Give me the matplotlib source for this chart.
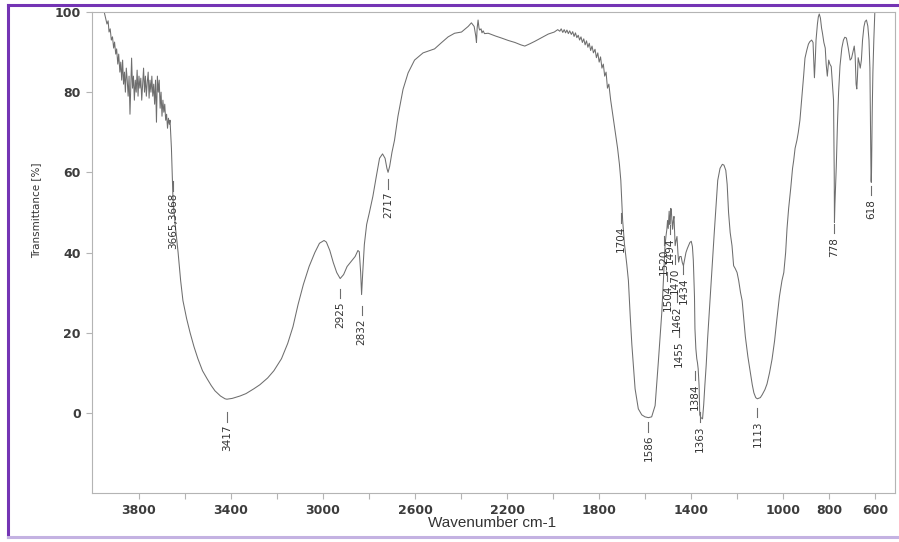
import numpy as np
import matplotlib.pyplot as plt
from matplotlib.lines import Line2D

# IR spectrum: wavenumber (cm-1) and transmittance (%)
wavenumber = [
    3950, 3944, 3938, 3933, 3929, 3924, 3919, 3914, 3909, 3905, 3900, 3896, 3891, 3887,
    3882, 3878, 3874, 3870, 3866, 3862, 3858, 3854, 3850, 3846, 3842, 3838, 3834, 3831,
    3827, 3823, 3819, 3815, 3811, 3807, 3803, 3799, 3795, 3791, 3787, 3783, 3779, 3775,
    3771, 3767, 3763, 3759, 3755, 3751, 3747, 3743, 3739, 3735, 3731, 3727, 3723, 3719,
    3715, 3711, 3707, 3703, 3699, 3695, 3691, 3687, 3683, 3679, 3675, 3671, 3667, 3664,
    3658, 3651, 3640, 3629, 3618, 3608, 3592, 3577, 3560, 3543, 3523, 3503, 3485, 3469,
    3445, 3425, 3417, 3394, 3360, 3334, 3300, 3274, 3240, 3213,
    3180, 3153, 3130, 3108, 3085, 3060, 3035, 3015, 2995, 2985, 2970, 2955, 2940, 2925,
    2910, 2895, 2877, 2860, 2848, 2842, 2836, 2832, 2827, 2820, 2810, 2798, 2783, 2768,
    2754, 2741, 2730, 2722, 2717, 2710, 2700, 2689, 2674, 2652, 2630, 2602, 2565, 2515,
    2486, 2456, 2428, 2398, 2369, 2355, 2343, 2336, 2333, 2330, 2326, 2322, 2319, 2313,
    2309, 2304, 2298, 2282, 2250, 2224, 2195, 2166, 2140, 2123, 2100, 2079, 2050, 2021,
    1995, 1980, 1971, 1965, 1958, 1952, 1946, 1940, 1934, 1928, 1921, 1915, 1909, 1903,
    1897, 1891, 1885, 1879, 1873, 1867, 1861, 1855, 1849, 1843, 1837, 1831, 1825, 1818,
    1812, 1806, 1800, 1794, 1788, 1782, 1776, 1770, 1764, 1758, 1750, 1740, 1730, 1720,
    1712, 1706, 1702, 1698, 1690, 1680, 1673, 1665, 1658, 1644, 1630, 1615, 1601, 1586,
    1572, 1557, 1543, 1528, 1521, 1514, 1510, 1506, 1503, 1500, 1496, 1493, 1491, 1489,
    1487, 1484, 1481, 1478, 1475, 1472, 1470, 1466, 1462, 1458, 1455, 1450, 1444, 1439,
    1434, 1428, 1423, 1417, 1412, 1406, 1400, 1395, 1391, 1388, 1386, 1384, 1380, 1376,
    1373, 1370, 1366, 1363, 1358, 1351, 1346, 1341, 1335, 1329, 1322, 1315, 1308, 1300,
    1292, 1285, 1275, 1265, 1258, 1250, 1244, 1238, 1231, 1223, 1216, 1209, 1201, 1194,
    1186, 1179, 1165, 1154, 1143, 1135, 1128, 1120, 1113, 1100, 1092, 1080, 1071, 1060,
    1049, 1038, 1028, 1017, 1006, 998, 990, 984, 977, 968, 960, 955, 949, 941,
    935, 928, 920, 912, 906, 898, 891, 885, 877, 871, 868, 865, 861, 858,
    852, 848, 844, 839, 834, 830, 824, 818, 814, 809, 805, 803, 798, 792,
    787, 782, 779, 778, 776, 772, 770, 765, 760, 754, 746, 739, 733, 726,
    718, 710, 704, 698, 692, 688, 684, 681, 678, 675, 670, 666, 661, 656,
    650, 645, 639, 633, 628, 624, 621, 619, 618, 617, 614, 611, 607, 602,
    597,
]
transmittance = [
    100, 98.5, 97, 97.8, 95, 95.8, 93, 93.8, 91, 92.5, 89.5, 90.8, 87, 89.5,
    85, 87.5, 83, 88, 82, 85, 80, 86, 83, 79, 84, 74.5, 83, 88.5,
    81, 84, 78, 83, 80, 85.5, 79, 84, 81, 83.5, 78, 82, 86, 80,
    84, 79, 82.5, 85, 78.5, 83, 80, 84, 79, 82, 77, 83, 72.5, 84,
    80, 83, 76, 80, 74, 78, 75, 77, 73, 74.5, 71, 73.5, 72, 73,
    66, 53, 46, 40, 33, 28, 23.5, 20, 16.5, 13.5, 10.5, 8.5, 6.8, 5.5,
    4.2, 3.5, 3.4, 3.6, 4.2, 4.8, 6, 7, 8.7, 10.5,
    13.5, 17.3, 21.5, 27, 32, 36.5, 40, 42.3, 43, 42.6, 40.5, 37.5, 35, 33.5,
    34.5, 36.5, 37.8, 39, 40.5, 40.2, 35, 29.5, 35, 42, 47, 50, 54, 59,
    63.5, 64.6, 63.5, 61, 60, 61.5, 65, 68, 74, 80.7, 84.8, 88, 89.8, 90.8,
    92.3, 93.8, 94.7, 95, 96.4, 97.3, 96.4, 94, 92.4, 96, 98, 96, 95.5, 95.8,
    94.8, 95.3, 94.6, 94.7, 94, 93.5, 92.9, 92.4, 91.8, 91.5, 92.1, 92.7, 93.6, 94.5,
    95, 95.6, 95.2, 95.8, 94.9, 95.6, 94.8, 95.5, 94.6, 95.3, 94.4, 95.1, 93.9, 94.8,
    93.6, 94.2, 93, 93.8, 92.4, 93.3, 91.8, 92.8, 91.2, 92.2, 90.4, 91.5, 89.8, 90.7,
    88.6, 89.8, 87.5, 88.8, 86, 87, 84, 85, 81, 82, 78, 74, 70, 66,
    62, 58, 53, 48, 42, 37, 33, 24, 17, 6, 1, -0.5, -1, -1.2,
    -1, 1.8, 12.7, 25, 33, 41.7, 44, 45.8, 48, 46, 50.3, 47, 48.3, 51,
    50.8, 48, 45.8, 48, 49, 45, 41.7, 43, 44, 40, 37.6, 39, 39, 37.5,
    36.7, 38.5, 40, 41, 41.7, 42.5, 42.8, 41.5, 38, 33, 29, 21, 16, 13.5,
    12.5, 11, 6.8, -0.5, -1.2, -1.5, 2, 6.8, 12, 18.5, 25, 31.7, 38, 45,
    52, 58, 61, 62, 61.8, 60.5, 57, 50, 45, 41.7, 36.7, 36, 35, 33,
    30, 28, 19, 14, 10, 7, 5, 3.8, 3.5, 3.8, 4.5, 5.8, 7.2, 10,
    13.4, 18, 23.4, 29, 33, 35, 40, 46, 51, 56, 61, 63, 66, 68,
    70, 73, 78.5, 84, 88.5, 90.5, 92, 92.6, 93, 92.4, 88, 83.6, 88.5, 93,
    97, 98.8, 99.5, 98.5, 96, 94.7, 92.4, 91, 87, 84, 86.5, 88, 87, 86.4,
    82, 78, 60, 47.5, 52, 58, 61.5, 72, 80, 86.5, 91, 93, 93.7, 93.5,
    91, 88, 88.4, 90, 91.5, 89, 82, 80.8, 84, 88.6, 87.3, 86, 88, 93,
    96.3, 97.6, 98, 96.5, 93, 86, 70, 58, 57.5, 60, 75, 85, 93, 101,
    106,
]

# Peak annotations: wavenumber, text, text centre height
peak_wn = [3652, 3417, 2925, 2832, 2717, 1704, 1586, 1520, 1504, 1494, 1470,
           1462, 1455, 1434, 1384, 1363, 1113, 778, 618]
peak_text = ["3665,3668", "3417", "2925", "2832", "2717", "1704", "1586", "1520",
             "1504", "1494", "1470", "1462", "1455", "1434", "1384", "1363",
             "1113", "778", "618"]
peak_text_y = [47.8, -6.3, 24.4, 20.2, 51.8, 43.3, -8.8, 37.7, 28.7, 40.4, 32.9,
               23.5, 14.8, 30.4, 4.0, -6.4, -5.2, 41.3, 50.8]

x_ticks = [3800, 3400, 3000, 2600, 2200, 1800, 1400, 1000, 800, 600]
y_ticks = [0, 20, 40, 60, 80, 100]

narrow = ["Liberation Sans Narrow", "DejaVu Sans"]
frame_grey = "#b4b4b4"
trace = "#6e6e6e"

fig = plt.figure(figsize=(8.99, 5.42), dpi=100)
ax = fig.add_axes([92 / 899, 1 - 493 / 542, 803 / 899, 481 / 542])

ax.plot(wavenumber, transmittance, color=trace, linewidth=0.75)

for wn, txt, ty in zip(peak_wn, peak_text, peak_text_y):
    half = 1.1 * len(txt) * 0.62 + 0.6
    ax.plot([wn, wn], [ty + half + 0.8, ty + half + 3.2], color=trace, linewidth=0.8)
    ax.text(wn, ty, txt, rotation=90, ha="center", va="center", fontsize=7.5,
            family=narrow, color="#333333")

ax.set_xlim(4003, 515)
ax.set_ylim(-20, 100)
ax.set_xticks(x_ticks)
ax.set_yticks(y_ticks)
ax.set_xticks(np.arange(3800, 500, -200), minor=True)
ax.tick_params(axis="both", which="both", direction="out", length=4, width=0.8,
               color=frame_grey, labelsize=9, labelcolor="#3c3c3c", pad=4)
for lbl in ax.get_xticklabels() + ax.get_yticklabels():
    lbl.set_fontweight("bold")
for sp in ax.spines.values():
    sp.set_color(frame_grey)
    sp.set_linewidth(0.8)

fig.text(492 / 899, 1 - 523 / 542, "Wavenumber cm-1", ha="center", va="center",
         fontsize=11, family=["Liberation Sans", "DejaVu Sans"], color="#333333")
fig.text(36 / 899, 1 - 210 / 542, "Transmittance [%]", rotation=90, ha="center",
         va="center", fontsize=7.5, family=narrow, color="#333333")

# page border (left, top, bottom)
purple = "#7434b4"
lavender = "#c4b2e2"
for xs, ys, col in [((8, 8), (5, 537), purple), ((8, 899), (5, 5), purple),
                    ((8, 899), (537, 537), lavender)]:
    fig.add_artist(Line2D([x / 899 for x in xs], [1 - y / 542 for y in ys],
                          transform=fig.transFigure, color=col, linewidth=2.2))

fig.savefig("out.png", dpi=100)
